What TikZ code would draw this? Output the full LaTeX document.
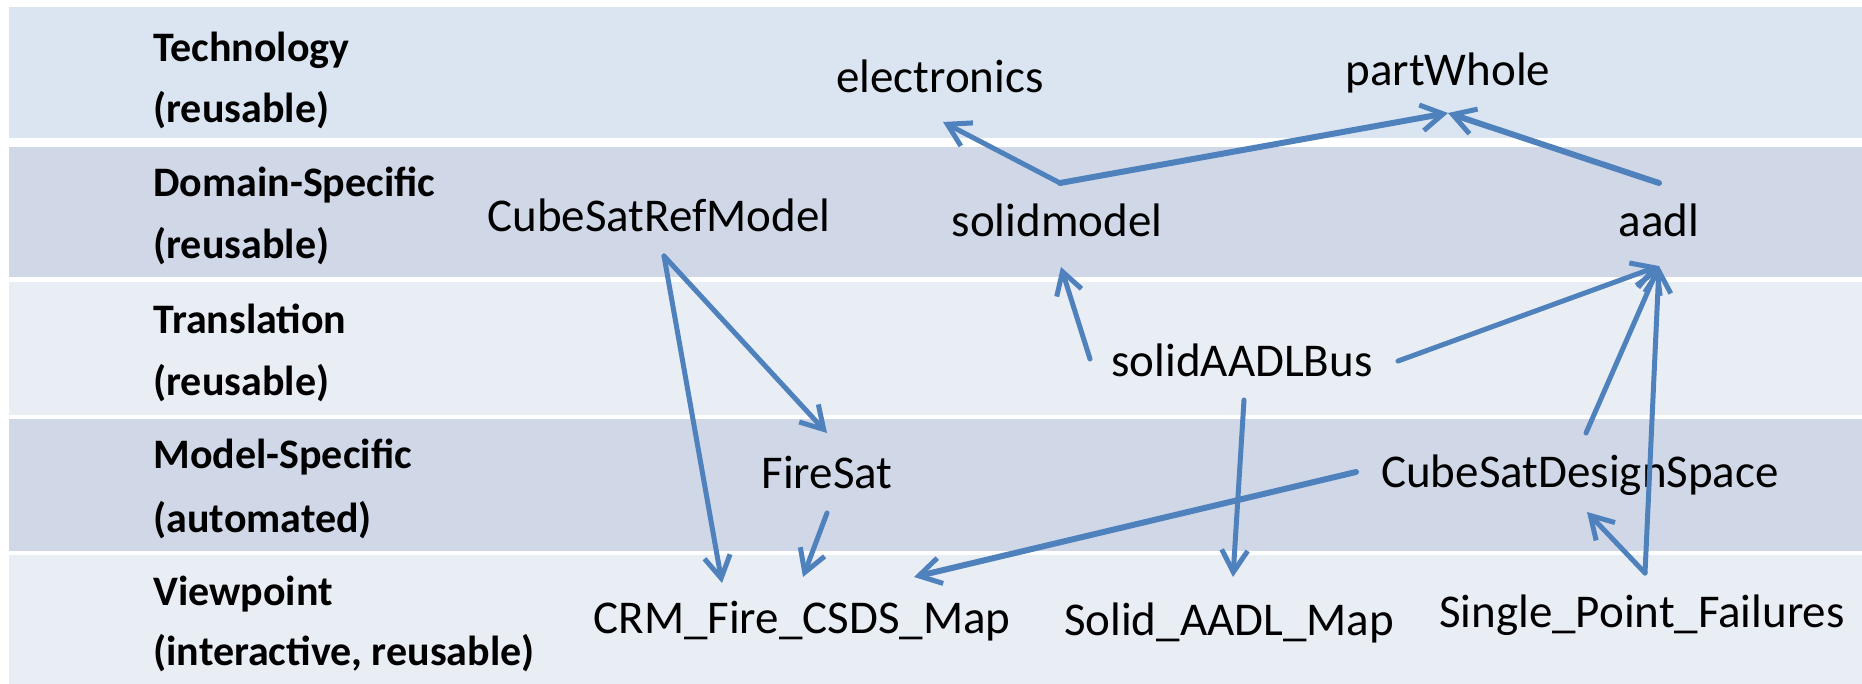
\documentclass[tikz,border=0pt]{standalone}
\usepackage{fontspec}
\setmainfont{Carlito}
\usetikzlibrary{arrows.meta}
\definecolor{bandA}{HTML}{DBE5F1}
\definecolor{bandB}{HTML}{D0D8E8}
\definecolor{bandC}{HTML}{E9EDF4}
\definecolor{arrowblue}{HTML}{4F81BD}
\begin{document}
\begin{tikzpicture}[x=0.5pt,y=-0.5pt,
  band/.style={fill=#1, draw=none},
  lbl/.style={anchor=base west, inner sep=0pt, font=\fontsize{21}{25}\selectfont\bfseries},
  item/.style={anchor=base, inner sep=0pt, font=\fontsize{23.5}{28}\selectfont},
  link/.style={draw=arrowblue, line width=2.5pt, line cap=round,
    -{Straight Barb[length=11pt,width=13pt,line width=2.5pt]}},
  boldlink/.style={link, line width=3pt}]
\useasboundingbox (0,0) rectangle (1862,684);
\fill[white] (0,0) rectangle (1862,684);
% bands
\path[band=bandA] (9,7) rectangle (1862,138);
\path[band=bandB] (9,147) rectangle (1862,277);
\path[band=bandC] (9,282) rectangle (1862,415);
\path[band=bandB] (9,419) rectangle (1862,551);
\path[band=bandC] (9,555) rectangle (1862,684);
% layer labels
\node[lbl] (l1a) at (153,62) {Technology};
\node[lbl] (l1b) at (153,123) {(reusable)};
\node[lbl] (l2a) at (153,197) {Domain-Specific};
\node[lbl] (l2b) at (153,258) {(reusable)};
\node[lbl] (l3a) at (153,333) {Translation};
\node[lbl] (l3b) at (153,395) {(reusable)};
\node[lbl] (l4a) at (153,468) {Model-Specific};
\node[lbl] (l4b) at (153,532) {(automated)};
\node[lbl] (l5a) at (153,605) {Viewpoint};
\node[lbl] (l5b) at (153,665) {(interactive, reusable)};
% items
\node[item] (elec) at (940,93) {electronics};
\node[item] (pw) at (1448,86) {partWhole};
\node[item] (crm) at (659,232) {CubeSatRefModel};
\node[item] (sm) at (1057,237) {solidmodel};
\node[item] (aadl) at (1659,237) {aadl};
\node[item] (bus) at (1242,376) {solidAADLBus};
\node[item] (fire) at (827,488) {FireSat};
\node[item] (csds) at (1580,487) {CubeSatDesignSpace};
\node[item] (map) at (802,633) {CRM\_Fire\_CSDS\_Map};
\node[item] (sam) at (1229,635) {Solid\_AADL\_Map};
\node[item] (spf) at (1642,627) {Single\_Point\_Failures};
% connector end points
\coordinate (sm-top) at (1060,183);
\coordinate (elec-in) at (943,122);
\coordinate (pw-in) at (1448,113);
\coordinate (aadl-top) at (1659,183);
\coordinate (crm-bot) at (664,256);
\coordinate (map-in1) at (722,583);
\coordinate (map-in2) at (803,577);
\coordinate (map-in3) at (914,577);
\coordinate (fire-in) at (827,433);
\coordinate (fire-out) at (827,513);
\coordinate (bus-l) at (1090,359);
\coordinate (bus-r) at (1398,361);
\coordinate (bus-b) at (1244,400);
\coordinate (sm-in) at (1061,267);
\coordinate (aadl-in) at (1659,266);
\coordinate (sam-in) at (1233,577);
\coordinate (csds-l) at (1356,472);
\coordinate (csds-t) at (1586,433);
\coordinate (csds-in) at (1587,512);
\coordinate (spf-top) at (1645,573);
% connectors
\draw[link] (sm-top) -- (elec-in);
\draw[boldlink] (sm-top) -- (pw-in);
\draw[boldlink] (aadl-top) -- (pw-in);
\draw[link] (crm-bot) -- (map-in1);
\draw[link] (crm-bot) -- (fire-in);
\draw[link] (fire-out) -- (map-in2);
\draw[link] (bus-l) -- (sm-in);
\draw[link] (bus-r) -- (aadl-in);
\draw[link] (bus-b) -- (sam-in);
\draw[boldlink] (csds-l) -- (map-in3);
\draw[link] (csds-t) -- (aadl-in);
\draw[link] (spf-top) -- (aadl-in);
\draw[link] (spf-top) -- (csds-in);
\end{tikzpicture}
\end{document}
